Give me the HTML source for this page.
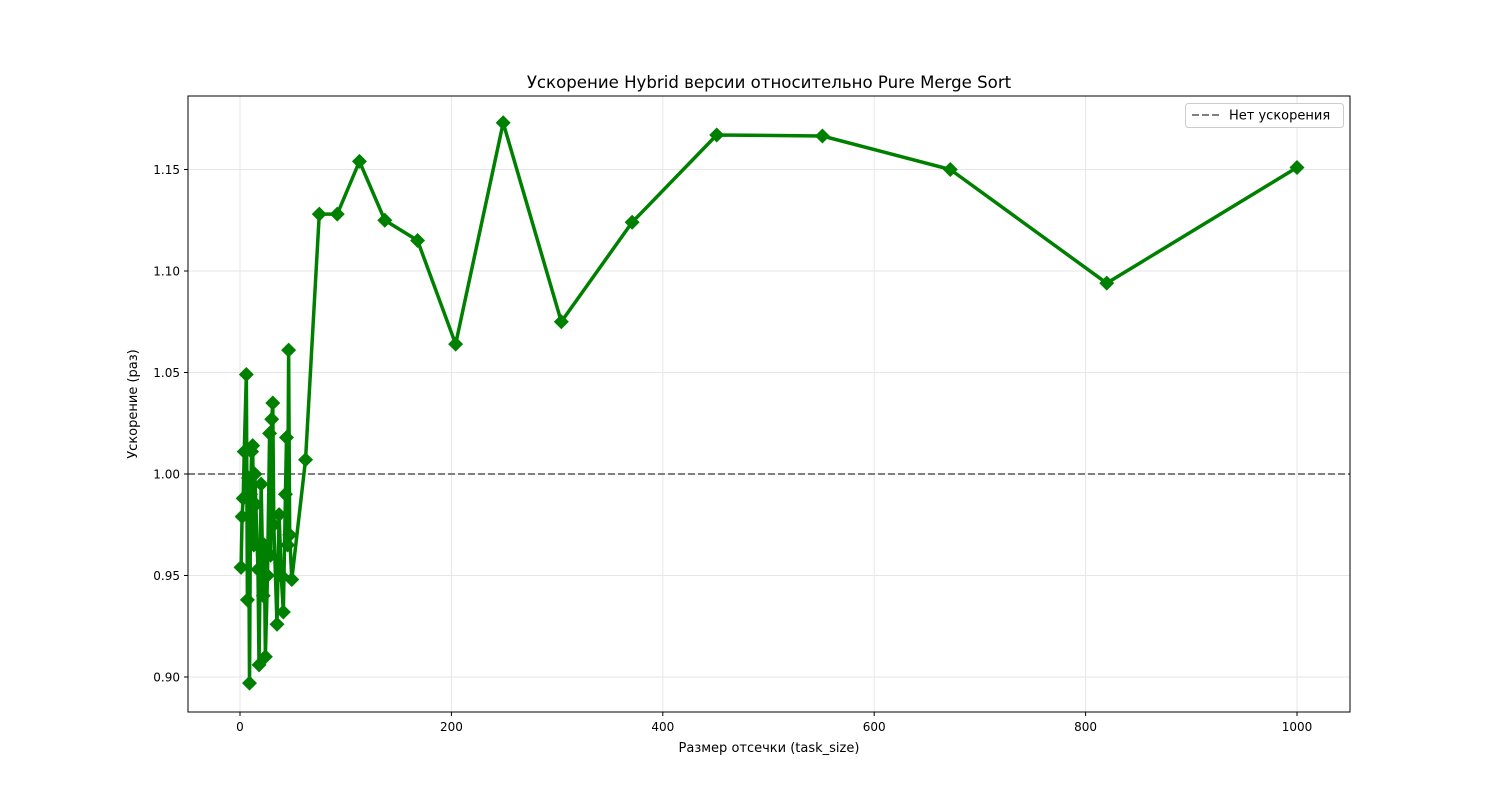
<!DOCTYPE html>
<html><head><meta charset="utf-8"><style>
body{margin:0;background:#fff;font-family:"Liberation Sans","DejaVu Sans",sans-serif;}
svg text{font-family:"DejaVu Sans","Liberation Sans",sans-serif;}
</style></head><body>
<svg id="chart" width="1500" height="800">
<rect width="1500" height="800" fill="#fff"/>
<g id="grid"></g>
<g id="ticks"></g>
<line x1="188" x2="1350" y1="474" y2="474" id="baseline" stroke="#808080" stroke-width="2" stroke-dasharray="7,3"/>
<g id="series"></g>
<rect x="188" y="96" width="1162" height="616" fill="none" stroke="#000" stroke-width="1"/>
<text x="769" y="88" font-size="16.6" text-anchor="middle">Ускорение Hybrid версии относительно Pure Merge Sort</text>
<text x="769" y="752" font-size="13" text-anchor="middle">Размер отсечки (task_size)</text>
<text x="137" y="404" font-size="13" text-anchor="middle" transform="rotate(-90 137 404)">Ускорение (раз)</text>
<g>
<rect x="1185.5" y="103.5" width="158" height="24" rx="3" fill="#fff" stroke="#ccc"/>
<line x1="1192" x2="1220" y1="115" y2="115" stroke="#808080" stroke-width="2" stroke-dasharray="7,3"/>
<text x="1229" y="119.5" font-size="13">Нет ускорения</text>
</g>
</svg>
<script>
const xs=[1,2,3,4,6,7,8,9,10,11,12,13,14,15,17,18,20,22,23,24,26,28,29,30,31,32,35,37,39,41,43,44,45,46,47,49,62,75,92,113,137,168,204,249,304,371,451,551,672,820,1000];
const ys=[0.954,0.979,0.988,1.011,1.049,0.938,0.998,0.897,0.990,1.011,1.014,0.965,1.000,0.985,0.953,0.906,0.995,0.940,0.965,0.910,0.950,1.020,0.960,1.027,1.035,0.975,0.926,0.980,0.950,0.932,0.990,1.018,0.965,1.061,0.970,0.948,1.007,1.128,1.128,1.154,1.125,1.115,1.064,1.173,1.075,1.124,1.167,1.1665,1.150,1.094,1.151];
const xTicks=[0,200,400,600,800,1000];
const yTicks=[0.90,0.95,1.00,1.05,1.10,1.15];
const NS="http://www.w3.org/2000/svg";
const X=v=>240+(v)*1.057;
const Y=v=>474-(v-1)*2030;
const grid=document.getElementById('grid'),ticks=document.getElementById('ticks'),ser=document.getElementById('series');
function mk(tag,a,p){const e=document.createElementNS(NS,tag);for(const k in a)e.setAttribute(k,a[k]);p.appendChild(e);return e;}
xTicks.forEach(t=>{const x=X(t);
const g=mk('line',{x1:x,x2:x,y1:96,y2:712,stroke:'#e6e6e6','stroke-width':1},grid);


const tk=mk('line',{x1:x,x2:x,y1:712,y2:716,stroke:'#000'},ticks);


const tx=mk('text',{x:x,y:731,'font-size':12,'text-anchor':'middle'},ticks);tx.textContent=t;

});
yTicks.forEach(t=>{const y=Y(t);
const g=mk('line',{x1:188,x2:1350,y1:y,y2:y,stroke:'#e6e6e6','stroke-width':1},grid);


const tk=mk('line',{x1:184,x2:188,y1:y,y2:y,stroke:'#000'},ticks);


const tx=mk('text',{x:180,y:y+4.5,'font-size':12,'text-anchor':'end'},ticks);tx.textContent=t.toFixed(2);

});
const pl=mk('polyline',{points:xs.map((v,i)=>X(v)+','+Y(ys[i])).join(' '),fill:'none',stroke:'#008000','stroke-width':3.5,'stroke-linejoin':'round'},ser);


xs.forEach((v,i)=>{const x=X(v),y=Y(ys[i]),r=7.5;
const d=mk('polygon',{points:`${x},${y-r} ${x+r},${y} ${x},${y+r} ${x-r},${y}`,fill:'#008000'},ser);

});
</script>
</body></html>
